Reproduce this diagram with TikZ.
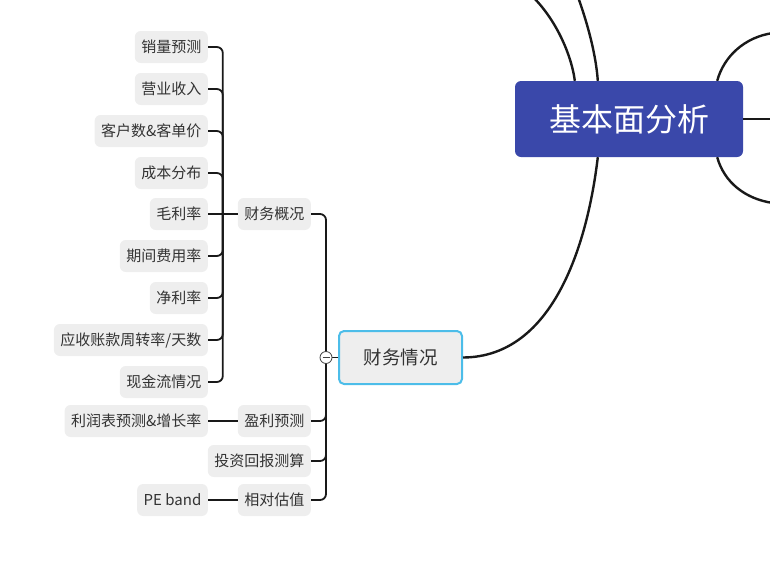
\documentclass[tikz,border=0pt]{standalone}
\usepackage{fontspec}
\setmainfont{Noto Sans CJK SC}
\usepackage{xcolor}
\usepackage{tikz}
\usetikzlibrary{positioning, calc}

\definecolor{rootblue}{HTML}{3A48AA}
\definecolor{leafgray}{HTML}{EEEEEE}
\definecolor{topicblue}{HTML}{4CBDE9}
\definecolor{inkgray}{HTML}{333333}

\tikzset{
  %% Central topic
  root/.style={
    rectangle, rounded corners=6pt,
    fill=rootblue, text=white,
    font=\fontsize{32}{38}\selectfont,
    minimum width=228pt, minimum height=76pt
  },
  %% Main topic (selected)
  topic/.style={
    rectangle, rounded corners=5pt,
    draw=topicblue, fill=leafgray, line width=2pt,
    text=inkgray, font=\fontsize{18.5}{22}\selectfont,
    minimum width=123pt, minimum height=53pt
  },
  %% Sub topic / leaf
  leaf/.style={
    rectangle, rounded corners=6pt,
    fill=leafgray, text=inkgray,
    font=\fontsize{15}{18}\selectfont,
    inner xsep=6.5pt, inner ysep=0pt, minimum height=32pt
  },
  %% Connectors
  tline/.style={draw=black!90, line width=1.8pt, rounded corners=6pt},
  mline/.style={draw=black!90, line width=2.4pt},
  %% Collapse button
  fold/.style={
    circle, draw=black!75, fill=white, line width=0.8pt,
    minimum size=12pt, inner sep=0pt,
    path picture={\draw[black!75, line width=0.8pt]
      ([xshift=-3.5pt]path picture bounding box.center) --
      ([xshift=3.5pt]path picture bounding box.center);}
  },
}

\begin{document}
\begin{tikzpicture}[x=1pt, y=-1pt]
  \useasboundingbox (0,0) rectangle (770,576);

  %% Topics
  \node[root] (root) at (629,119) {基本面分析};
  \node[topic] (cwqk) at (400.5,357.5) {财务情况};

  %% Second level
  \node[leaf, anchor=east] (gk)   at (311,214) {财务概况};
  \node[leaf, anchor=east] (ylyc) at (311,421) {盈利预测};
  \node[leaf, anchor=east] (tzhb) at (311,461) {投资回报测算};
  \node[leaf, anchor=east] (xdgz) at (311,500) {相对估值};

  %% Leaves
  \node[leaf, anchor=east] (xlyc) at (208,47)  {销量预测};
  \node[leaf, anchor=east] (yysr) at (208,89)  {营业收入};
  \node[leaf, anchor=east] (khs)  at (208,131) {客户数\&客单价};
  \node[leaf, anchor=east] (cbfb) at (208,173) {成本分布};
  \node[leaf, anchor=east] (mll)  at (208,214) {毛利率};
  \node[leaf, anchor=east] (qjfy) at (208,256) {期间费用率};
  \node[leaf, anchor=east] (jll)  at (208,298) {净利率};
  \node[leaf, anchor=east] (yszk) at (208,340) {应收账款周转率/天数};
  \node[leaf, anchor=east] (xjl)  at (208,382) {现金流情况};
  \node[leaf, anchor=east] (lrb)  at (208,421) {利润表预测\&增长率};
  \node[leaf, anchor=east] (pe)   at (208,500) {PE band};

  \coordinate (hub1) at ($(mll.east)!0.5!(gk.west)$);
  \coordinate (hub2) at (326,357.5);

  %% Off-screen branches
  \coordinate (up1) at (533,-3);
  \coordinate (up2) at (578,-3);
  \coordinate (rt1) at (773,33);
  \coordinate (rt2) at (773,119);
  \coordinate (rt3) at (773,203);

  %% Tree connectors
  \foreach \n in {xlyc, yysr, khs, cbfb, qjfy, jll, yszk, xjl}
    \draw[tline] (hub1) |- (\n.east);
  \draw[tline] (mll.east) -- (gk.west);
  \foreach \n in {gk, ylyc, tzhb, xdgz}
    \draw[tline] (hub2) |- (\n.east);
  \draw[tline] (lrb.east) -- (ylyc.west);
  \draw[tline] (pe.east) -- (xdgz.west);
  \draw[tline] (cwqk.west) -- (hub2);
  \node[fold] (btn) at (hub2) {};

  %% Main curves
  \draw[mline] (cwqk.east) .. controls (555,357) and (588,240)
               .. ($(root.south west)+(83,0)$);
  \draw[mline] ($(root.north west)+(60,0)$) .. controls (572,58) and (558,22)
               .. (up1);
  \draw[mline] ($(root.north west)+(83,0)$) .. controls (596,55) and (588,25)
               .. (up2);
  \draw[mline] ($(root.north east)+(-26,0)$) .. controls (724,56) and (745,37)
               .. (rt1);
  \draw[mline] (root.east) -- (rt2);
  \draw[mline] ($(root.south east)+(-26,0)$) .. controls (724,182) and (745,199)
               .. (rt3);

\end{tikzpicture}
\end{document}
